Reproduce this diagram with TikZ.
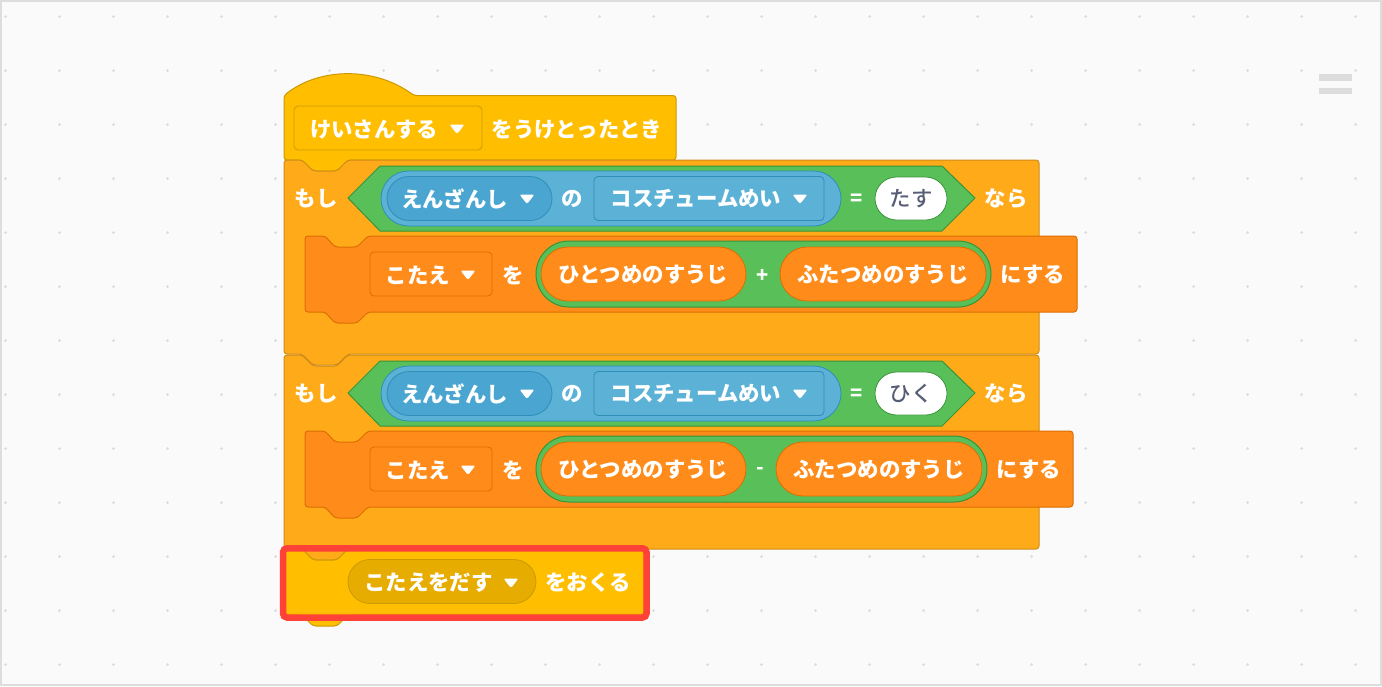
\documentclass[tikz,border=0pt]{standalone}
\usepackage{fontspec}
\setmainfont{Noto Sans CJK JP}
\newfontfamily\entryfont{Noto Sans CJK JP Medium}
\usetikzlibrary{shapes.misc}
\usetikzlibrary{positioning}

\definecolor{pagebg}{HTML}{FAFAFA}
\definecolor{pageline}{HTML}{DDDDDD}
\definecolor{griddot}{HTML}{DCDCDC}
\definecolor{eventfill}{HTML}{FFBF00}
\definecolor{eventline}{HTML}{CC9900}
\definecolor{eventdark}{HTML}{E6AC00}
\definecolor{controlfill}{HTML}{FFAB19}
\definecolor{controlline}{HTML}{CF8B17}
\definecolor{varfill}{HTML}{FF8C1A}
\definecolor{varline}{HTML}{DB6E00}
\definecolor{opfill}{HTML}{59C059}
\definecolor{opline}{HTML}{389438}
\definecolor{lookfill}{HTML}{5CB1D6}
\definecolor{lookdark}{HTML}{4AA6D0}
\definecolor{lookline}{HTML}{2E8EB8}
\definecolor{inktext}{HTML}{575E75}
\definecolor{frame}{HTML}{FF4238}

\newcommand{\notchgo}{-- ++(11,11) -- ++(24,0) -- ++(11,-11)}
\newcommand{\notchback}{-- ++(-11,11) -- ++(-24,0) -- ++(-11,-11)}

\begin{document}
\begin{tikzpicture}[x=1pt,y=-1pt]
\tikzstyle{word}=[inner sep=0,font=\fontsize{21.4}{24}\selectfont\bfseries,text=white]
\tikzstyle{sign}=[inner sep=0,font=\fontsize{20}{22}\selectfont\bfseries,text=white]
\tikzstyle{entry}=[inner sep=0,font=\fontsize{21.4}{24}\selectfont\entryfont,text=inktext]
\tikzstyle{menubox}=[draw,line width=0.8,rectangle,rounded corners=4,inner sep=0,minimum height=44]
\tikzstyle{pillbox}=[draw,line width=0.8,rounded rectangle,inner sep=0]
\tikzstyle{griddotmark}=[circle,fill=griddot,inner sep=0,minimum size=3]
\tikzstyle{blockline}=[line width=1,rounded corners=3]
\tikzset{dropmark/.pic={\fill[white,rounded corners=2] (-7.5,-4.5) -- (7.5,-4.5) -- (0,5) -- cycle;}}

\fill[pageline] (0,0) rectangle (1382,686);
\fill[pagebg] (2,2) rectangle (1380,684);

\foreach \col in {0,...,25}
  \foreach \row in {0,...,12}
    \node [griddotmark] (dot-\col-\row) at ({5.5+54*\col},{16.5+54*\row}) {};

\fill[griddot] (1319,74) rectangle (1352,80.5);
\fill[griddot] (1319,87.5) rectangle (1352,94);

% hat block
\draw[blockline,fill=eventfill,draw=eventline] (284,160) -- (284,95.5) .. controls (320,67) and (375,67) .. (414,95.5)
  -- (676,95.5) -- (676,160) -- (348,160) \notchback -- cycle;
\node [menubox,fill=eventfill,draw=eventline,minimum width=188] (message) at (388,128) {};
\node [word] (messageword) at (374,129.5) {けいさんする};
\pic (messagedrop) at (457,129) {dropmark};
\node [word] (receive) at (577,129.5) {をうけとったとき};

% the two if blocks
\foreach \idx/\dy/\entryword/\opsign/\signx/\secl/\secr/\greenr/\endx/\innerr in {
  1/0/たす/+/763/780/986/991/1033/1077,
  2/195/ひく/-/760/776/982/987/1029/1073} {
  \draw[blockline,fill=controlfill,draw=controlline] (284,160+\dy) -- (302,160+\dy) \notchgo -- (1039,160+\dy)
    -- (1039,354+\dy) -- (348,354+\dy) \notchback -- (284,354+\dy) -- cycle;
  \node [word] (if\idx) at (316,199+\dy) {もし};
  \draw[line width=1,fill=opfill,draw=opline] (348,198+\dy) -- (380,166+\dy) -- (942,166+\dy) -- (975,198+\dy)
    -- (942,231+\dy) -- (380,231+\dy) -- cycle;
  \node [pillbox,fill=lookfill,draw=lookline,minimum width=460,minimum height=55] (look\idx) at (611,198.5+\dy) {};
  \node [pillbox,fill=lookdark,draw=lookline,minimum width=165,minimum height=44] (sprite\idx) at (469.5,198.5+\dy) {};
  \node [word] (spriteword\idx) at (454.5,199+\dy) {えんざんし};
  \pic (spritedrop\idx) at (527,199+\dy) {dropmark};
  \node [word] (of\idx) at (572,199+\dy) {の};
  \node [menubox,fill=lookfill,draw=lookline,minimum width=230] (costume\idx) at (709,198.5+\dy) {};
  \node [word] (costumeword\idx) at (696,199+\dy) {コスチュームめい};
  \pic (costumedrop\idx) at (800,199+\dy) {dropmark};
  \node [sign] (equals\idx) at (857,200+\dy) {=};
  \node [pillbox,fill=white,draw=opline,minimum width=72,minimum height=43] (entry\idx) at (911,198.5+\dy) {};
  \node [entry] (entryword\idx) at (911,199+\dy) {\entryword};
  \node [word] (then\idx) at (1006,199+\dy) {なら};

  \draw[blockline,fill=varfill,draw=varline] (305,236+\dy) -- (325,236+\dy) -- ++(10,11) -- ++(22,0) -- ++(11,-11)
    -- (\innerr,236+\dy) -- (\innerr,312+\dy) -- (368,312+\dy) -- ++(-11,11) -- ++(-22,0) -- ++(-10,-11)
    -- (305,312+\dy) -- cycle;
  \node [menubox,fill=varfill,draw=varline,minimum width=122] (answer\idx) at (431,274+\dy) {};
  \node [word] (answerword\idx) at (418,275+\dy) {こたえ};
  \pic (answerdrop\idx) at (468,275+\dy) {dropmark};
  \node [word] (to\idx) at (513,275+\dy) {を};
  \node [pillbox,line width=1,fill=opfill,draw=opline,minimum width={\greenr-536},minimum height=66] (sum\idx) at ({(536+\greenr)/2},274+\dy) {};
  \node [pillbox,fill=varfill,draw=varline,minimum width=205,minimum height=54] (first\idx) at (643.5,274+\dy) {};
  \node [word] (firstword\idx) at (643.5,275+\dy) {ひとつめのすうじ};
  \node [sign] (plus\idx) at (\signx,275.5+\dy) {\opsign};
  \node [pillbox,fill=varfill,draw=varline,minimum width={\secr-\secl},minimum height=54] (second\idx) at ({(\secl+\secr)/2},274+\dy) {};
  \node [word] (secondword\idx) at ({(\secl+\secr)/2},275+\dy) {ふたつめのすうじ};
  \node [word] (make\idx) at (\endx,275+\dy) {にする};
}

% broadcast block
\draw[blockline,fill=eventfill,draw=eventline] (284,549) -- (302,549) \notchgo -- (644,549) -- (644,615)
  -- (348,615) \notchback -- (284,615) -- cycle;
\node [pillbox,fill=eventdark,draw=eventline,minimum width=188,minimum height=44] (send) at (442,581.5) {};
\node [word] (sendword) at (428.5,582.5) {こたえをだす};
\pic (senddrop) at (511,583) {dropmark};
\node [word] (post) at (588,582.5) {をおくる};

\draw[frame,line width=6.5,rounded corners=4] (283,548.3) rectangle (646.5,617.5);

\end{tikzpicture}
\end{document}
